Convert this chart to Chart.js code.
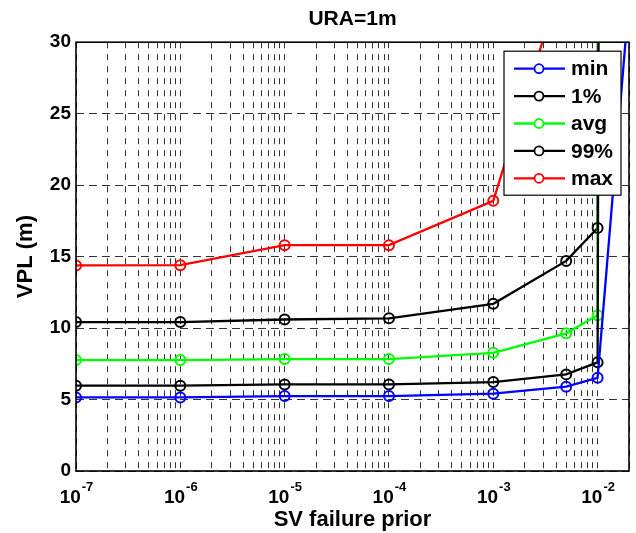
<!DOCTYPE html>
<html>
<head>
<meta charset="UTF-8">
<title>URA=1m</title>
<script src="https://cdn.jsdelivr.net/npm/chart.js"></script>
<style>
    body { margin: 0; background: #fff; }
    canvas { display: block; }
</style>
</head>
<body>
<canvas id="chart" width="636" height="533"></canvas>
<script>
    // SV failure prior (x) vs VPL in metres (y)
    const priors = [1e-7, 1e-6, 1e-5, 1e-4, 1e-3, 5e-3, 1e-2, 2e-2];
    const vplMin = [5.15, 5.15, 5.24, 5.24, 5.41, 5.9, 6.52, 33];
    const vplP01 = [5.97, 5.97, 6.06, 6.06, 6.22, 6.76, 7.6, 800];
    const vplAvg = [7.76, 7.76, 7.83, 7.83, 8.27, 9.63, 10.9, 1000];
    const vplP99 = [10.42, 10.42, 10.6, 10.68, 11.7, 14.7, 17.0, 1500];
    const vplMax = [14.38, 14.4, 15.8, 15.8, 18.9, 35.4, 60, 2000];

    const xDecades = [-7, -6, -5, -4, -3, -2];
    const xMin = 1e-7, xMax = 2e-2;
    const yTicks = [0, 5, 10, 15, 20, 25, 30];

    const FONT = "'Liberation Sans', Arial, sans-serif";
    Chart.defaults.font.family = FONT;
    Chart.defaults.color = '#000';

    // grid at every 1..9 x 10^n, like a matlab log grid
    const xGrid = [];
    xDecades.forEach(n => {
        for (let k = 1; k <= 9; k++) {
            const v = k * Math.pow(10, n);
            if (v <= xMax * 1.0001) xGrid.push(v);
        }
    });

    function series(label, color, ys) {
        return {
            label: label,
            data: priors.map((x, i) => ({x: x, y: ys[i]})),
            borderColor: color,
            backgroundColor: color,
            borderWidth: 2.3,
            pointRadius: 5,
            pointBorderWidth: 2,
            pointBackgroundColor: 'rgba(0,0,0,0)',
            pointBorderColor: color,
            tension: 0
        };
    }

    const frame = {
        id: 'frame',
        afterDraw(chart) {
            const {ctx, chartArea: a} = chart;
            ctx.save();
            ctx.strokeStyle = '#000';
            ctx.lineWidth = 1.6;
            ctx.strokeRect(a.left, a.top, a.right - a.left, a.bottom - a.top);
            ctx.restore();
        }
    };

    const powerLabels = {
        id: 'powerLabels',
        afterDraw(chart) {
            const {ctx} = chart;
            const xs = chart.scales.x;
            ctx.save();
            ctx.fillStyle = '#000';
            ctx.textBaseline = 'alphabetic';
            xDecades.forEach(n => {
                const px = xs.getPixelForValue(Math.pow(10, n));
                ctx.font = 'bold 19px ' + FONT;
                const w1 = ctx.measureText('10').width;
                ctx.font = 'bold 13px ' + FONT;
                const e = String(n);
                const w2 = ctx.measureText(e).width;
                const x0 = px - (w1 + w2) / 2;
                ctx.font = 'bold 19px ' + FONT;
                ctx.fillText('10', x0, 503);
                ctx.font = 'bold 13px ' + FONT;
                ctx.fillText(e, x0 + w1 + 1, 491);
            });
            ctx.restore();
        }
    };

    const boxLegend = {
        id: 'boxLegend',
        afterDraw(chart) {
            const {ctx, chartArea: a} = chart;
            const w = 117, h = 144;
            const left = a.right - 8 - w, top = a.top + 9;
            ctx.save();
            ctx.fillStyle = '#fff';
            ctx.fillRect(left, top, w, h);
            ctx.strokeStyle = '#000';
            ctx.lineWidth = 1.2;
            ctx.strokeRect(left, top, w, h);
            chart.data.datasets.forEach((ds, i) => {
                const y = top + 17.5 + i * 27.4;
                ctx.strokeStyle = ds.borderColor;
                ctx.lineWidth = 2.3;
                ctx.beginPath();
                ctx.moveTo(left + 10, y);
                ctx.lineTo(left + 61, y);
                ctx.stroke();
                ctx.fillStyle = '#fff';
                ctx.lineWidth = 1.8;
                ctx.beginPath();
                ctx.arc(left + 35, y, 4.5, 0, Math.PI * 2);
                ctx.fill();
                ctx.stroke();
                ctx.fillStyle = '#000';
                ctx.font = 'bold 21px ' + FONT;
                ctx.textBaseline = 'middle';
                ctx.fillText(ds.label, left + 67, y + 1);
            });
            ctx.restore();
        }
    };

    new Chart(document.getElementById('chart'), {
        type: 'line',
        data: {
            datasets: [
                series('min', '#0000ff', vplMin),
                series('1%', '#000000', vplP01),
                series('avg', '#00ff00', vplAvg),
                series('99%', '#000000', vplP99),
                series('max', '#ff0000', vplMax)
            ]
        },
        options: {
            responsive: false,
            animation: false,
            layout: {padding: {right: 2}},
            plugins: {
                legend: {display: false},
                tooltip: {enabled: false},
                title: {
                    display: true,
                    text: 'URA=1m',
                    fullSize: false,
                    font: {size: 21, weight: 'bold'},
                    padding: {top: 7, bottom: 10}
                }
            },
            scales: {
                x: {
                    type: 'logarithmic',
                    min: xMin,
                    max: xMax,
                    afterBuildTicks: s => { s.ticks = xGrid.map(v => ({value: v})); },
                    afterFit: s => { s.height = 62; },
                    ticks: {display: false},
                    grid: {color: 'rgba(0,0,0,0.8)', lineWidth: 1, drawTicks: false},
                    border: {display: false, dash: [6, 6]},
                    title: {
                        display: true,
                        text: 'SV failure prior',
                        font: {size: 22, weight: 'bold'},
                        padding: {top: 0, bottom: 0}
                    }
                },
                y: {
                    type: 'linear',
                    min: 0,
                    max: 30,
                    afterBuildTicks: s => { s.ticks = yTicks.map(v => ({value: v})); },
                    afterFit: s => { s.width = 76; },
                    ticks: {font: {size: 19, weight: 'bold'}, padding: 5},
                    grid: {color: 'rgba(0,0,0,0.8)', lineWidth: 1, drawTicks: false},
                    border: {display: false, dash: [8, 5]},
                    title: {
                        display: true,
                        text: 'VPL (m)',
                        font: {size: 22, weight: 'bold'},
                        padding: {top: 13, bottom: 0}
                    }
                }
            }
        },
        plugins: [frame, powerLabels, boxLegend]
    });
</script>
</body>
</html>
